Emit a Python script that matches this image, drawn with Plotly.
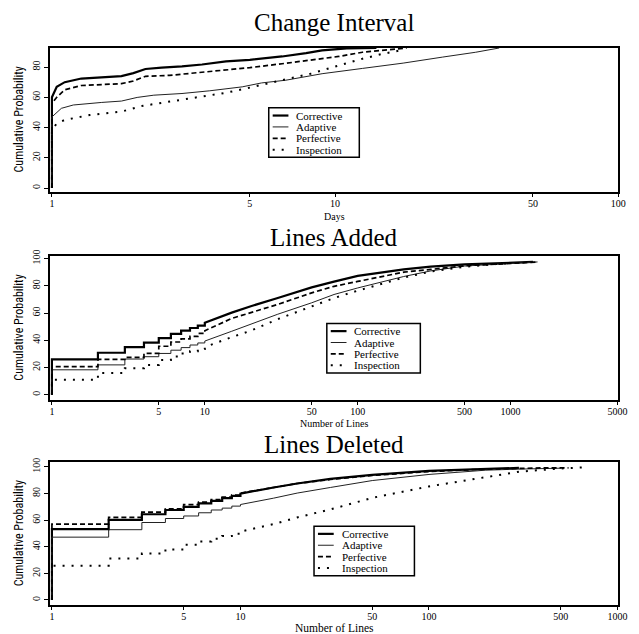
import plotly.graph_objects as go

# ---------------- data ----------------
series_names = ["Corrective", "Adaptive", "Perfective", "Inspection"]

# Panel 1: Change Interval (days) - smooth cumulative curves
ci_corrective_x = [1, 1, 1.04, 1.11, 1.27, 1.54, 1.76, 1.94, 2.14, 2.44, 2.88, 3.39, 4.12, 5.0, 6.5, 7.9, 9.0, 11.0, 14.0]
ci_corrective_y = [0, 60, 67, 70, 72.4, 73.4, 74, 76, 78.7, 79.6, 80.4, 81.7, 83.7, 84.8, 87, 89.2, 91, 92.4, 92.6]
ci_adaptive_x = [1, 1, 1.08, 1.19, 1.5, 1.76, 2.0, 2.29, 2.88, 3.61, 4.7, 5.5, 6.7, 9.0, 12.5, 17.4, 24, 31.4, 38]
ci_adaptive_y = [0, 47, 52.7, 54.9, 56.6, 57.5, 59.9, 61.4, 62.5, 64.3, 66.9, 69.5, 71.3, 75.6, 79.1, 82.6, 86.6, 89.8, 92.6]
ci_perfective_x = [1, 1, 1.04, 1.11, 1.27, 1.54, 1.76, 1.94, 2.14, 2.6, 3.17, 4.12, 5.0, 6.5, 7.9, 10.3, 12.5, 15.2, 17.9]
ci_perfective_y = [0, 56, 60, 65, 67.8, 68.6, 69, 70.8, 73.9, 74.5, 76, 78.3, 79.6, 82.2, 84.4, 87, 89.8, 91.4, 92.6]
ci_inspection_x = [1, 1, 1.04, 1.11, 1.36, 1.76, 2.07, 2.6, 3.39, 4.12, 5.0, 6.5, 8.2, 10.3, 12.5, 14.7, 17.4]
ci_inspection_y = [0, 38, 42.8, 45, 48.3, 50.5, 54.2, 57, 60.3, 63, 66.4, 71.3, 75.6, 81, 85.5, 88.7, 91.4]

# Panels 2 and 3: integer step part (values for lines = 1..10), then smooth tail
step_counts = [1, 2, 3, 4, 5, 6, 7, 8, 9, 10]

la_corrective_steps = [26, 30.8, 35, 38.2, 41.6, 44.7, 47, 49, 50.7, 52.9]
la_corrective_tx = [15, 20, 30, 50, 70, 100, 200, 300, 500, 1000, 1400]
la_corrective_ty = [60.3, 65, 71, 78.8, 83, 87.3, 92, 94, 95.7, 96.9, 97.5]
la_adaptive_steps = [18.3, 21.9, 26.2, 27.9, 30.3, 32.7, 34.6, 36.5, 38, 39.4]
la_adaptive_tx = [15, 20, 30, 50, 70, 100, 200, 300, 500, 1000, 1500]
la_adaptive_ty = [46.6, 52, 59.1, 67.5, 73.6, 78.4, 86.8, 90.9, 94.5, 96.4, 97.5]
la_perfective_steps = [20.7, 26, 27.4, 30.3, 35.6, 38.7, 41, 42.8, 45, 47]
la_perfective_tx = [15, 20, 30, 50, 70, 100, 200, 300, 500, 1000, 1500]
la_perfective_ty = [56, 60.3, 66.3, 74.8, 79.6, 83.2, 90, 92, 94.7, 96.4, 97.5]
la_inspection_steps = [11, 15.9, 19.5, 21.9, 25.5, 28, 30.3, 32, 33.5, 35]
la_inspection_tx = [15, 20, 30, 50, 70, 100, 200, 300, 500, 800, 1000]
la_inspection_ty = [42.3, 47, 55.5, 65, 71, 76.4, 86, 90.4, 94, 95.9, 96.5]

ld_corrective_steps = [53.3, 60.2, 64.4, 67.6, 70, 72.5, 74.5, 76.5, 78.2, 79.9]
ld_corrective_tx = [15, 20, 30, 50, 100, 200, 300]
ld_corrective_ty = [84.5, 87.5, 91, 94, 97, 98.5, 99.2]
ld_adaptive_steps = [47.2, 52.8, 58.2, 61.2, 63.1, 65.5, 67.6, 69, 70.5, 71.7]
ld_adaptive_tx = [15, 20, 30, 50, 100, 200, 300, 500]
ld_adaptive_ty = [76.5, 80.3, 84.5, 89.7, 94.3, 97.5, 98.3, 99]
ld_perfective_steps = [57, 62, 66, 68.5, 71.7, 73.5, 75.4, 77.2, 78.8, 80.3]
ld_perfective_tx = [15, 20, 30, 50, 100, 200, 400, 550]
ld_perfective_ty = [84.5, 87.5, 90.5, 93.5, 96.5, 98.3, 99.2, 99.3]
ld_inspection_steps = [25.8, 31.2, 34.9, 38, 41.5, 44, 46, 48, 49.8, 51.4]
ld_inspection_tx = [15, 20, 30, 50, 100, 200, 300, 500, 650]
ld_inspection_ty = [57, 62, 68, 76.7, 85.3, 92.6, 96.3, 98.8, 99.5]

ci_ticks = [1, 5, 10, 50, 100]
la_ticks = [1, 5, 10, 50, 100, 500, 1000, 5000]
ld_ticks = [1, 5, 10, 50, 100, 500, 1000]
prob_ticks = [0, 20, 40, 60, 80, 100]

titles = ["Change Interval", "Lines Added", "Lines Deleted"]
xtitles = ["Days", "Number of Lines", "Number of Lines"]
ytitle = "Cumulative Probability"

# ---------------- styling ----------------
W, H = 639, 634
SERIF = "Liberation Serif, Times New Roman, serif"
NARROW = "Liberation Sans Narrow, Arial Narrow, Roboto Condensed, DejaVu Sans Condensed, sans-serif"
styles = {
    "Corrective": dict(color="black", width=2.2, dash="solid"),
    "Adaptive": dict(color="#222222", width=1.0, dash="solid"),
    "Perfective": dict(color="black", width=1.7, dash="5px,3px"),
    "Inspection": dict(color="black", width=2.0, dash="2px,7px"),
}


def stepped(counts, steps, tx, ty):
    xs, ys = [counts[0]], [0]
    prev = 0
    for k, v in zip(counts, steps):
        xs += [k, k]
        ys += [prev, v]
        prev = v
    return xs + tx, ys + ty


panels = [
    [(ci_corrective_x, ci_corrective_y), (ci_adaptive_x, ci_adaptive_y),
     (ci_perfective_x, ci_perfective_y), (ci_inspection_x, ci_inspection_y)],
    [stepped(step_counts, la_corrective_steps, la_corrective_tx, la_corrective_ty),
     stepped(step_counts, la_adaptive_steps, la_adaptive_tx, la_adaptive_ty),
     stepped(step_counts, la_perfective_steps, la_perfective_tx, la_perfective_ty),
     stepped(step_counts, la_inspection_steps, la_inspection_tx, la_inspection_ty)],
    [stepped(step_counts, ld_corrective_steps, ld_corrective_tx, ld_corrective_ty),
     stepped(step_counts, ld_adaptive_steps, ld_adaptive_tx, ld_adaptive_ty),
     stepped(step_counts, ld_perfective_steps, ld_perfective_tx, ld_perfective_ty),
     stepped(step_counts, ld_inspection_steps, ld_inspection_tx, ld_inspection_ty)],
]

# pixel layout of the three plot boxes (left, right, top, bottom)
boxes = [(50, 627, 41, 187), (50, 627, 252, 397), (50, 627, 460, 605)]
xranges = [[-0.006, 2.0], [-0.011, 3.7035], [-0.009, 3.0036]]
yranges = [[-2.6, 92.9], [-3.6, 101.7], [-4.0, 103.7]]
xticks = [ci_ticks, la_ticks, ld_ticks]
title_y = [16, 233, 442]
xtitle_y = [212, 421, 627.5]
xtitle_size = [10, 10, 11.5]
legend_boxes = [(272, 364, 102, 152), (331, 426, 320, 370), (318, 420, 525, 575)]

fig = go.Figure()
layout = dict(width=W, height=H, margin=dict(l=0, r=0, t=0, b=0),
              paper_bgcolor="white", plot_bgcolor="white", showlegend=False)
annotations, shapes = [], []


def px(x):
    return x / W


def py(y):
    return 1 - y / H


for i in range(3):
    sfx = "" if i == 0 else str(i + 1)
    l, r, t, b = boxes[i]
    for name, (xs, ys) in zip(series_names, panels[i]):
        fig.add_trace(go.Scatter(x=xs, y=ys, mode="lines", name=name,
                                 line=styles[name], xaxis="x" + sfx, yaxis="y" + sfx,
                                 showlegend=False, hoverinfo="skip"))
    yt = [v for v in prob_ticks if v <= yranges[i][1]]
    layout["xaxis" + sfx] = dict(
        type="log", range=xranges[i], domain=[px(l), px(r)], anchor="y" + sfx,
        tickvals=xticks[i], ticktext=[str(v) for v in xticks[i]],
        ticks="outside", ticklen=3, tickwidth=1, tickcolor="black",
        showline=True, linecolor="black", linewidth=2, mirror=True,
        showgrid=False, zeroline=False, ticklabelstandoff=-2,
        tickfont=dict(family=SERIF, size=10, color="black"))
    layout["yaxis" + sfx] = dict(
        range=yranges[i], domain=[py(b), py(t)], anchor="x" + sfx,
        tickvals=yt, ticktext=[str(v) for v in yt], tickangle=-90,
        ticks="outside", ticklen=4, tickwidth=1, tickcolor="black",
        showline=True, linecolor="black", linewidth=2, mirror=True,
        showgrid=False, zeroline=False,
        tickfont=dict(family=SERIF, size=10, color="black"))
    # titles
    annotations.append(dict(text=titles[i], x=px((l + r) / 2), y=py(title_y[i]),
                            xref="paper", yref="paper", showarrow=False,
                            xanchor="center", yanchor="middle",
                            font=dict(family=SERIF, size=25, color="black")))
    annotations.append(dict(text=xtitles[i], x=px((l + r) / 2), y=py(xtitle_y[i]),
                            xref="paper", yref="paper", showarrow=False,
                            xanchor="center", yanchor="middle",
                            font=dict(family=SERIF, size=xtitle_size[i], color="black")))
    annotations.append(dict(text=ytitle, x=px(18), y=py((t + b) / 2),
                            xref="paper", yref="paper", showarrow=False, textangle=-90,
                            xanchor="center", yanchor="middle",
                            font=dict(family=NARROW, size=12, color="black")))
    # legend box
    bl, br, bt, bb = legend_boxes[i]
    shapes.append(dict(type="rect", xref="paper", yref="paper",
                       x0=px(bl), x1=px(br), y0=py(bb), y1=py(bt),
                       line=dict(color="black", width=1.5), fillcolor="white", layer="above"))
    pitch = (bb - bt - 4) / 4
    for j, name in enumerate(series_names):
        yc = bt + 2 + pitch * (j + 0.5)
        st = styles[name]
        shapes.append(dict(type="line", xref="paper", yref="paper",
                           x0=px(bl + 4), x1=px(bl + 20), y0=py(yc), y1=py(yc),
                           line=dict(color=st["color"], width=st["width"], dash=st["dash"]),
                           layer="above"))
        annotations.append(dict(text=name, x=px(bl + 26), y=py(yc),
                                xref="paper", yref="paper", showarrow=False,
                                xanchor="left", yanchor="middle",
                                font=dict(family=SERIF, size=11, color="black")))

layout["annotations"] = annotations
layout["shapes"] = shapes
fig.update_layout(**layout)
fig.write_html("out.html", config={"displayModeBar": False},
               post_script="document.body.style.margin='0px';")
